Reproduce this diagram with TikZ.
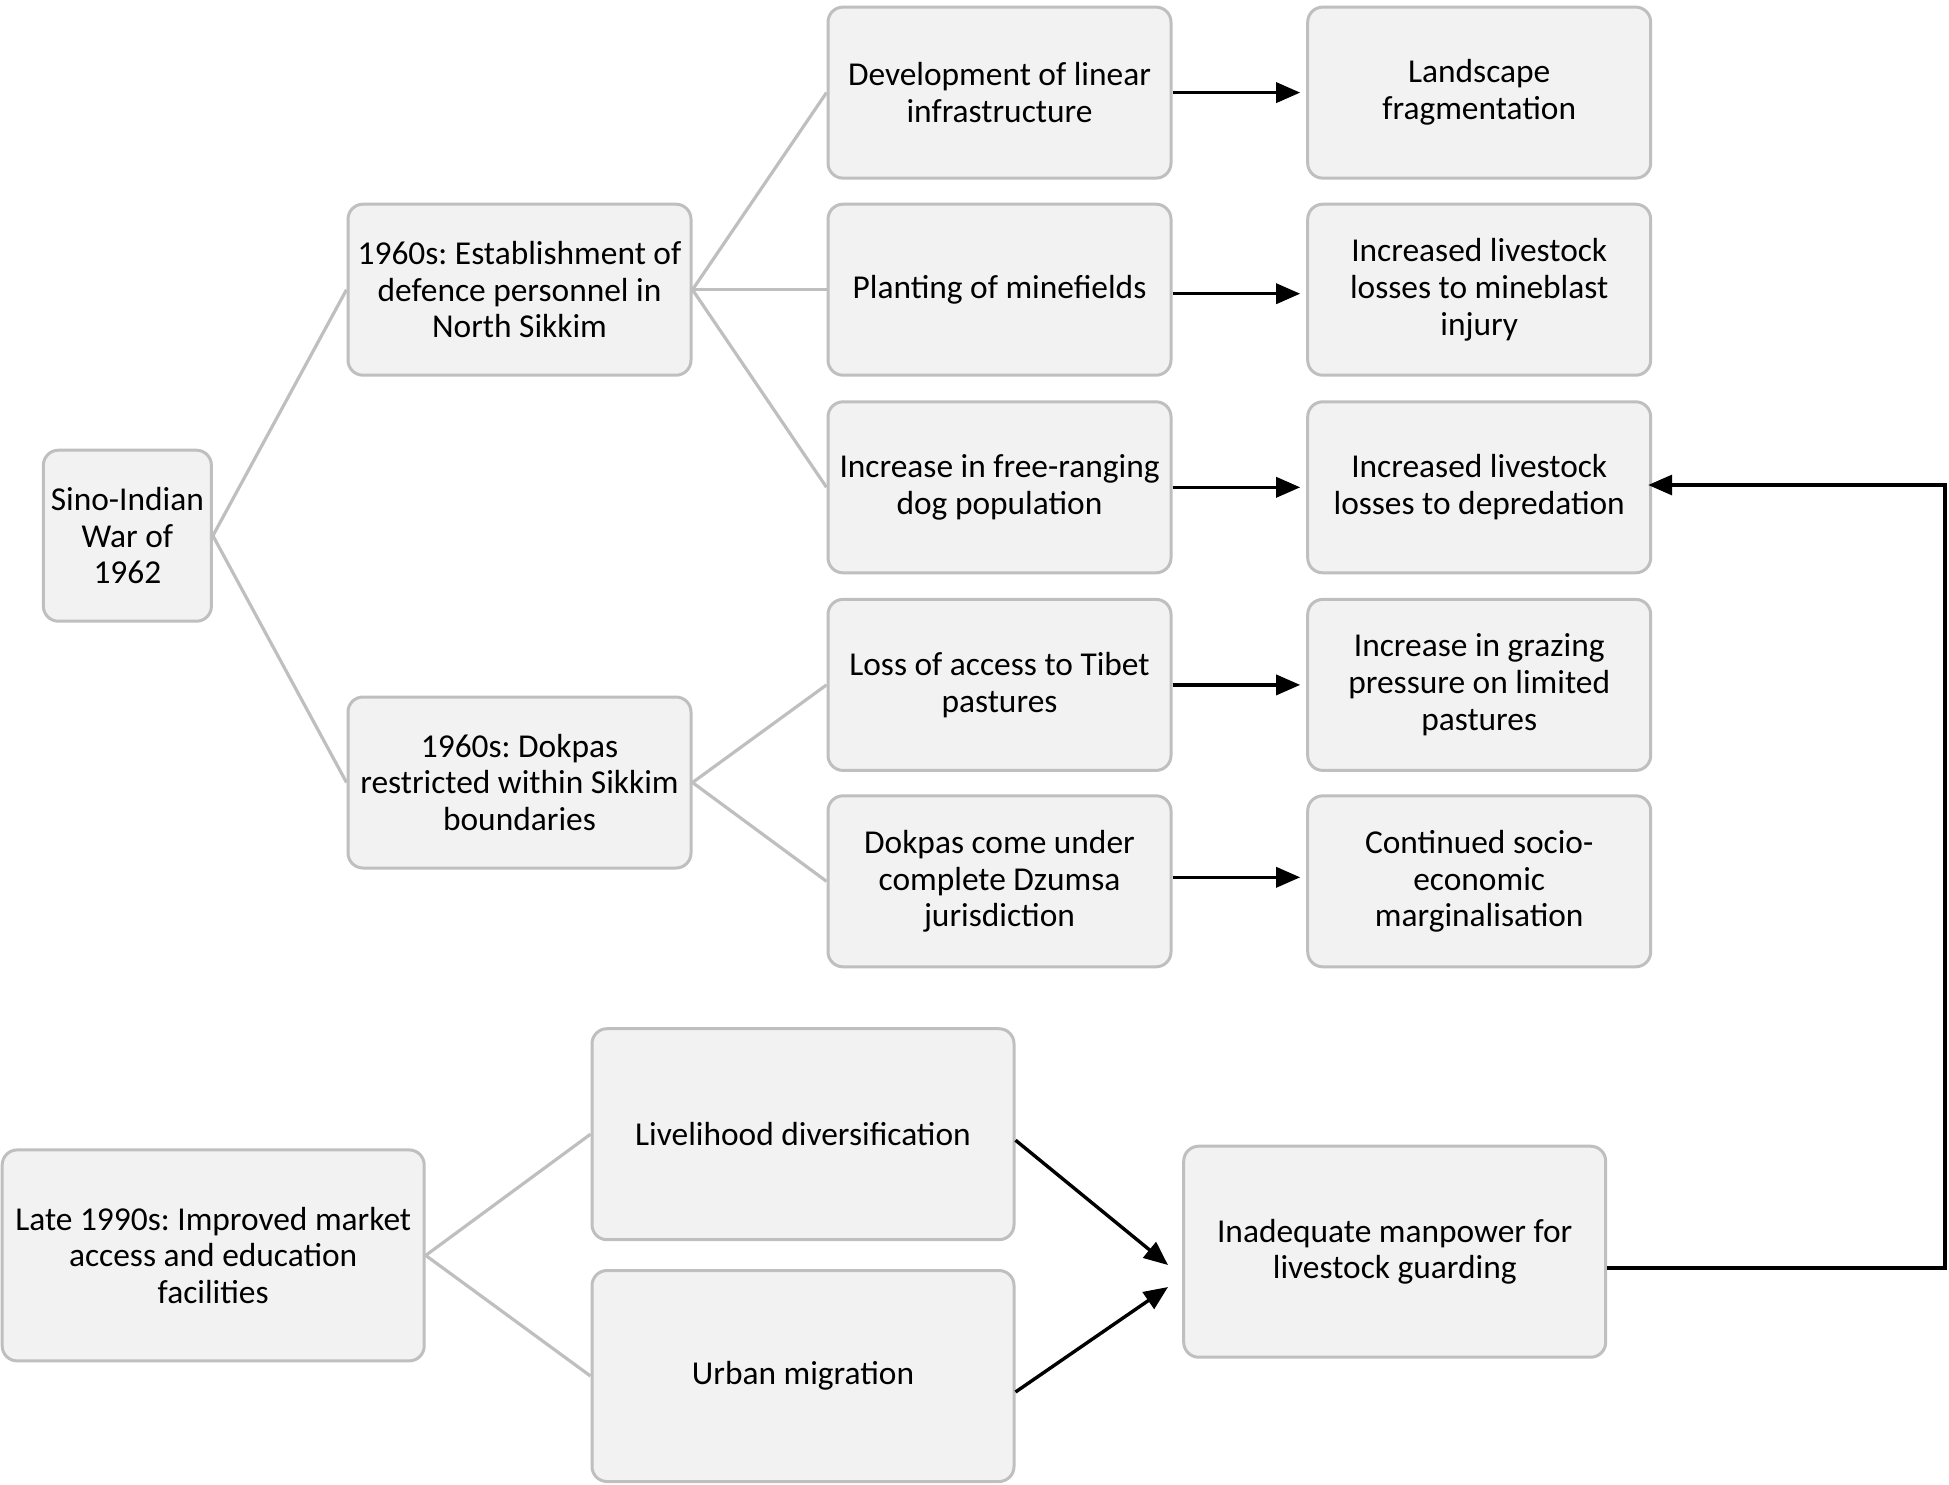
\documentclass[tikz,border=0pt]{standalone}
\usepackage{fontspec}
\setmainfont{Carlito}
\frenchspacing
\usetikzlibrary{arrows.meta}
\definecolor{boxfill}{HTML}{F2F2F2}
\definecolor{boxline}{HTML}{BFBFBF}
\tikzset{
  box/.style={draw=boxline, line width=1.5pt, fill=boxfill, rounded corners=7.5pt,
    align=center, inner sep=0pt, font=\fontsize{16.7}{18.4}\selectfont},
  sbox/.style={box, minimum width=171.5pt, minimum height=85.5pt},
  wbox/.style={box, minimum width=211pt, minimum height=105.5pt},
  tree/.style={draw=boxline, line width=1.6pt},
  flow/.style={draw=black, line width=1.7pt, -{Triangle[length=12pt,width=10pt]}},
}
\begin{document}
\begin{tikzpicture}[x=0.5pt,y=-0.5pt]
\useasboundingbox (0,0) rectangle (1949,1484);
\node[box, minimum width=84pt, minimum height=85.5pt] (sino) at (127.4,535.7) {Sino-Indian\\War of\\1962};
\node[sbox] (est) at (519.5,289.7) {1960s: Establishment of\\defence personnel in\\North Sikkim};
\node[sbox] (dok) at (519.5,782.5) {1960s: Dokpas\\restricted within Sikkim\\boundaries};
\node[sbox] (c1) at (999.5,92.6) {Development of linear\\infrastructure};
\node[sbox] (c2) at (999.5,289.7) {Planting of minefields};
\node[sbox] (c3) at (999.5,487.3) {Increase in free-ranging\\dog population};
\node[sbox] (c4) at (999.5,684.9) {Loss of access to Tibet\\pastures};
\node[sbox] (c5) at (999.5,881.3) {Dokpas come under\\complete Dzumsa\\jurisdiction};
\node[sbox] (d1) at (1479.2,92.6) {Landscape\\fragmentation};
\node[sbox] (d2) at (1479.2,289.7) {Increased livestock\\losses to mineblast\\injury};
\node[sbox] (d3) at (1479.2,487.3) {Increased livestock\\losses to depredation};
\node[sbox] (d4) at (1479.2,684.9) {Increase in grazing\\pressure on limited\\pastures};
\node[sbox] (d5) at (1479.2,881.3) {Continued socio-\\economic\\marginalisation};
\node[wbox] (late) at (213.2,1255.4) {Late 1990s: Improved market\\access and education\\facilities};
\node[wbox] (liv) at (803,1134.2) {Livelihood diversification};
\node[wbox] (urb) at (803,1376) {Urban migration};
\node[wbox] (inad) at (1394.7,1251.7) {Inadequate manpower for\\livestock guarding};
% tree lines
\draw[tree] (sino.east) -- (est.west);
\draw[tree] (sino.east) -- (dok.west);
\draw[tree] (est.east) -- (c1.west);
\draw[tree] (est.east) -- (c2.west);
\draw[tree] (est.east) -- (c3.west);
\draw[tree] (dok.east) -- (c4.west);
\draw[tree] (dok.east) -- (c5.west);
\draw[tree] (late.east) -- (liv.west);
\draw[tree] (late.east) -- (urb.west);
% arrows
\draw[flow, shorten >=3pt] (c1.east) -- (d1.west);
\draw[flow, shorten >=3pt] ([yshift=-2pt]c2.east) -- ([yshift=-2pt]d2.west);
\draw[flow, shorten >=3pt] (c3.east) -- (d3.west);
\draw[flow, shorten >=3pt] (c4.east) -- (d4.west);
\draw[flow, shorten >=3pt] ([yshift=2pt]c5.east) -- ([yshift=2pt]d5.west);
\coordinate (lt) at (1168,1265);
\coordinate (ut) at (1168,1287);
\draw[flow] ([yshift=-3pt]liv.east) -- (lt);
\draw[flow] ([yshift=-8pt]urb.east) -- (ut);
\coordinate (r1) at (1945,1268);
\coordinate (r2) at (1945,485);
\draw[flow, shorten >=-2pt] (inad.east |- r1) -- (r1) -- (r2) -- (r2 -| d3.east);
\end{tikzpicture}
\end{document}
